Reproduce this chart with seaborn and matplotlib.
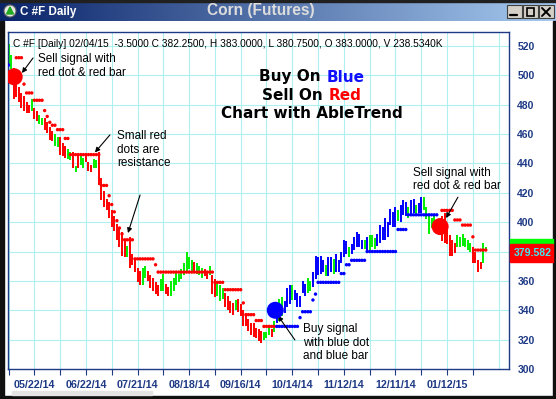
import matplotlib
matplotlib.use("Agg")
import matplotlib.pyplot as plt
from matplotlib.colors import LinearSegmentedColormap
from matplotlib.offsetbox import TextArea, HPacker, AnnotationBbox
from matplotlib.patches import Rectangle, Circle, Polygon
import numpy as np
import pandas as pd
import seaborn as sns

# daily bars, oldest first (high / low)
highs = [
    521, 514, 505, 497, 492, 488, 486, 482, 480, 484,
    478, 476, 473, 471, 471, 468, 465, 462, 460, 458,
    458, 454, 452, 450, 448, 448, 438, 445, 446, 444,
    446, 441, 439, 443, 442, 448, 430, 421, 416, 414,
    408, 404, 399, 396, 393, 388, 384, 390, 378, 374,
    369, 367, 369, 370, 367, 364, 362, 359, 357, 361,
    365, 358, 356, 360, 362, 366, 365, 368, 372, 380,
    376, 374, 373, 372, 370, 369, 368, 367, 370, 364,
    361, 359, 357, 355, 352, 350, 346, 345, 347, 348,
    344, 340, 338, 334, 331, 331, 328, 327, 326, 325,
    325, 329, 327, 333, 340, 348, 349, 346, 355, 357,
    357, 354, 352, 350, 360, 358, 362, 360, 366, 377,
    376, 377, 374, 371, 376, 376, 375, 378, 374, 380,
    388, 387, 383, 385, 390, 393, 392, 388, 388, 390,
    391, 391, 389, 392, 398, 397, 403, 400, 409, 407,
    410, 408, 412, 415, 414, 410, 415, 416, 412, 413,
    417, 417, 410, 405, 403, 405, 402, 400, 404, 406,
    399, 391, 388, 386, 391, 390, 392, 389, 388, 386,
    383, 380, 374, 373, 386, 383,
]
lows = [
    508, 504, 484, 485, 482, 478, 476, 474, 474, 476,
    470, 469, 467, 466, 463, 461, 456, 455, 452, 451,
    446, 445, 444, 443, 442, 437, 434, 437, 439, 437,
    441, 435, 434, 437, 437, 425, 415, 410, 408, 403,
    397, 394, 388, 383, 377, 376, 376, 369, 371, 366,
    359, 357, 357, 362, 360, 355, 353, 351, 350, 353,
    353, 351, 350, 350, 353, 357, 359, 361, 364, 367,
    368, 366, 366, 365, 364, 362, 363, 361, 364, 351,
    349, 350, 346, 348, 342, 340, 338, 337, 340, 339,
    336, 329, 329, 326, 323, 322, 321, 319, 318, 320,
    321, 323, 322, 325, 331, 333, 336, 338, 342, 344,
    347, 347, 342, 342, 352, 350, 352, 353, 356, 361,
    364, 365, 366, 363, 363, 366, 365, 366, 366, 372,
    376, 378, 376, 378, 381, 383, 383, 382, 382, 381,
    381, 383, 382, 384, 386, 388, 388, 390, 398, 397,
    397, 401, 400, 405, 404, 403, 404, 406, 405, 406,
    406, 408, 402, 392, 396, 398, 396, 392, 387, 386,
    385, 377, 377, 379, 383, 383, 384, 383, 381, 380,
    372, 372, 366, 368, 372, 381,
]
# AbleTrend bar colour: r = down, g = neutral, b = up
bar_trend = (
    "ggrrrrrrrg" "rrggrrrrgg" "rrrggrgrgg" "rrrggrrrrr" "rrrrrrgrrr"
    "rrggrrrrrg" "grrggggggg" "ggrgggrrgr" "rgggrrrrgr" "rrrrrrrrrg"
    "ggrgbggbbb" "gbbbbbggbb" "bbbgbbgbbb" "bbgbbbbbgb" "gggbbbbbbb"
    "bgbbbgbbgb" "bgggggggrr" "rrrrgggggg" "rrrrgg"
)

# stop dots as runs (first bar, last bar, price)
red_stop_runs = [
    (3, 5, 512), (6, 6, 494), (7, 9, 488), (10, 13, 483), (14, 14, 476),
    (15, 15, 472), (16, 16, 468), (17, 18, 466), (19, 21, 463), (22, 23, 457),
    (24, 35, 446), (36, 38, 425), (39, 39, 418), (40, 40, 412), (41, 41, 407),
    (42, 42, 401), (43, 43, 396), (44, 44, 392), (45, 48, 388), (49, 56, 375),
    (57, 57, 371), (58, 79, 366), (80, 83, 359), (84, 90, 354), (91, 91, 345),
    (92, 95, 337), (96, 98, 333), (99, 103, 329),
    (168, 172, 408), (173, 175, 401.5), (176, 179, 398), (180, 180, 390),
    (181, 185, 381),
]
blue_stop_runs = [
    (0, 0, 507), (104, 112, 329), (113, 113, 335), (114, 117, 339),
    (118, 118, 347), (119, 119, 351), (120, 128, 359), (129, 130, 365),
    (131, 132, 371), (133, 138, 374), (139, 150, 380), (151, 154, 395),
    (155, 166, 405),
]

signal_pos = [2.2, 103.4, 167.3]
signal_price = [499, 340, 397]
signal_side = ["r", "b", "r"]

date_ticks = [10, 30, 50, 70, 90, 110, 130, 150, 170]
date_labels = ["05/22/14", "06/22/14", "07/21/14", "08/18/14", "09/16/14",
               "10/14/14", "11/12/14", "12/11/14", "01/12/15"]
price_ticks = [300, 320, 340, 360, 380, 400, 420, 440, 460, 480, 500, 520]

last_value = 379.582
header = ("C #F [Daily] 02/04/15  -3.5000 C 382.2500, H 383.0000, "
          "L 380.7500, O 383.0000, V 238.5340K")

sns.set_theme(style="white")
plt.rcParams["font.family"] = ["Liberation Sans", "DejaVu Sans"]

NAVY = "#1E3A86"
GRID = "#AEEFF2"
palette = {"r": "#FF0000", "g": "#00EE00", "b": "#0000FF"}

bars = pd.DataFrame({"idx": np.arange(len(highs)), "high": highs, "low": lows,
                     "trend": list(bar_trend)})
stop_rows = []
for a, b, lvl in red_stop_runs:
    for i in range(a, b + 1):
        stop_rows.append((i, lvl, "r"))
for a, b, lvl in blue_stop_runs:
    for i in range(a, b + 1):
        stop_rows.append((i, lvl, "b"))
stops = pd.DataFrame(stop_rows, columns=["idx", "level", "side"])
signals = pd.DataFrame({"idx": signal_pos, "level": signal_price, "side": signal_side})

W, H = 556, 399
fig = plt.figure(figsize=(W / 100, H / 100), dpi=100)
fig.patch.set_facecolor("white")

left, right, top, bottom = 8, 509, 32, 369
ax = fig.add_axes([left / W, 1 - bottom / H, (right - left) / W, (bottom - top) / H])
ax.set_facecolor("white")
ax.set_xlim(-0.2, 194)
ax.set_ylim(300, 529.5)

# grid
ax.vlines(np.arange(0, 191, 10), 300, 529.5, color=GRID, lw=0.8, zorder=0)
ax.hlines(price_ticks[1:], -0.2, 194, color=GRID, lw=0.8, zorder=0)

for t, grp in bars.groupby("trend"):
    ax.vlines(grp["idx"], grp["low"], grp["high"], color=palette[t], lw=1.4, zorder=2)

sns.scatterplot(data=stops, x="idx", y="level", hue="side", palette=palette,
                s=6, linewidth=0, legend=False, ax=ax, zorder=3)
sns.scatterplot(data=signals, x="idx", y="level", hue="side", palette=palette,
                s=150, linewidth=0, legend=False, ax=ax, zorder=4)

ax.set_xlabel("")
ax.set_ylabel("")
ax.yaxis.tick_right()
ax.set_yticks(price_ticks)
# the 380 label sits under the last-value box
ax.set_yticklabels(["" if p == 380 else str(p) for p in price_ticks])
ax.tick_params(axis="y", length=0, pad=6, labelsize=7.5, labelcolor=NAVY)
ax.set_xticks(date_ticks)
ax.set_xticklabels(date_labels)
ax.set_xticks(np.arange(0, 181, 20), minor=True)
ax.tick_params(axis="x", which="both", direction="out", length=4, width=0.8,
               color=NAVY, bottom=True)
ax.tick_params(axis="x", which="major", pad=4, labelsize=7.7, labelcolor=NAVY)
for lbl in ax.get_xticklabels() + ax.get_yticklabels():
    lbl.set_fontweight("bold")
for s in ax.spines.values():
    s.set_color(NAVY)
    s.set_linewidth(1)

note = dict(fontsize=8.5, color="black", ha="left", va="top", linespacing=1.15)
arrow = dict(arrowstyle="-|>", color="black", lw=0.8, mutation_scale=7,
             shrinkA=0, shrinkB=0)
ax.annotate("", xy=(5.2, 501.6), xytext=(9.5, 511.8), arrowprops=arrow)
ax.text(11.4, 515, "Sell signal with\nred dot & red bar", **note)
ax.annotate("", xy=(33.5, 447.5), xytext=(39.3, 459.4), arrowprops=arrow)
ax.annotate("", xy=(46.3, 392.6), xytext=(51, 418.5), arrowprops=arrow)
ax.text(42.1, 462.5, "Small red\ndots are\nresistance", **note)
ax.annotate("", xy=(104.5, 336.2), xytext=(111, 319.8), arrowprops=arrow)
ax.text(114.1, 331, "Buy signal\nwith blue dot\nand blue bar", **note)
ax.annotate("", xy=(169.6, 402.8), xytext=(174.2, 417), arrowprops=arrow)
ax.text(156.8, 437.5, "Sell signal with\nred dot & red bar", **note)

# window chrome drawn in pixel coordinates
ov = fig.add_axes([0, 0, 1, 1], zorder=10)
ov.set_xlim(0, W)
ov.set_ylim(H, 0)
ov.axis("off")
ov.patch.set_visible(False)

grad = np.linspace(0, 1, 256).reshape(1, -1)
cmap = LinearSegmentedColormap.from_list("tb", ["#0A246A", "#A6CAF0"])
ov.imshow(grad, extent=(0, W, 21, 0), aspect="auto", cmap=cmap, zorder=1)
ov.add_patch(Rectangle((0, 0), W, 1.5, color="#202020", zorder=2))
ov.add_patch(Circle((10, 11), 6, facecolor="#E8E8E8", edgecolor="#606060", lw=0.8, zorder=3))
ov.add_patch(Polygon([[6.5, 14], [13.5, 14], [10, 7]], closed=True, color="#22AA22", zorder=4))
ov.text(20, 11.5, "C #F Daily", color="white", fontsize=8.4, fontweight="bold",
        ha="left", va="center", zorder=5)
ov.text(261, 11, "Corn (Futures)", color="#DCDCDC", fontsize=11.2, fontweight="bold",
        ha="center", va="center", zorder=5)
for bx in (507, 523, 539):
    ov.add_patch(Rectangle((bx, 5), 14.5, 13, facecolor="#D4D0C8", edgecolor="#404040",
                           lw=0.8, zorder=3))
ov.plot([510, 517], [15, 15], color="black", lw=1.6, zorder=4)
ov.add_patch(Rectangle((526.5, 7.5), 7.5, 8, fill=False, edgecolor="black", lw=1.2, zorder=4))
ov.plot([542, 550], [8, 16], color="black", lw=1.4, zorder=4)
ov.plot([542, 550], [16, 8], color="black", lw=1.4, zorder=4)

# frame edges
ov.add_patch(Rectangle((0, 21), 4, H - 21, color="#101010", zorder=2))
ov.add_patch(Rectangle((W - 3, 21), 3, H - 21, color="#101010", zorder=2))
ov.add_patch(Rectangle((0, H - 3), W, 3, color="#101010", zorder=2))
ov.add_patch(Rectangle((12, H - 8), 140, 4, color="#E4E4E4", zorder=2))

# last value marker on the price scale
ov.add_patch(Rectangle((510, 239), W - 513, 4.5, color="#00FF00", zorder=3))
ov.add_patch(Rectangle((510, 243.5), W - 513, 18, color="#FF0000", zorder=3))
ov.text(533, 252.5, f"{last_value:.3f}", color="#40E8F0", fontsize=7.6, fontweight="bold",
        ha="center", va="center", zorder=4)

ov.text(13, 44, header, fontsize=7.3, color="black", ha="left", va="center", zorder=5)

big = dict(fontsize=11, fontweight="bold", family="DejaVu Sans")


def two_tone(y, first, second, color):
    box = HPacker(children=[TextArea(first, textprops=dict(color="black", **big)),
                            TextArea(second, textprops=dict(color=color, **big))],
                  align="baseline", pad=0, sep=4)
    ab = AnnotationBbox(box, (312, y), xycoords="data", frameon=False, box_alignment=(0.5, 0.5))
    ov.add_artist(ab)


two_tone(77, "Buy On", "Blue", "#1010FF")
two_tone(95, "Sell On", "Red", "#FF0000")
ov.text(312, 113, "Chart with AbleTrend", color="black", ha="center", va="center", **big)

fig.savefig("out.png", dpi=100)
